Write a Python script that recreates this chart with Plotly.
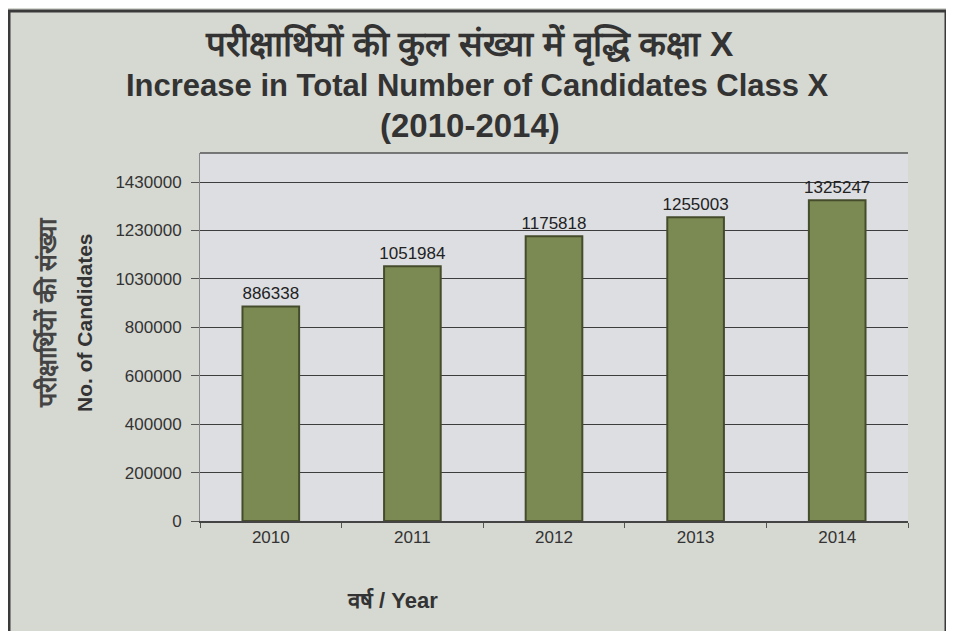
import plotly.graph_objects as go

years = ["2010", "2011", "2012", "2013", "2014"]
candidates = [886338, 1051984, 1175818, 1255003, 1325247]
ytick_vals = [0, 200000, 400000, 600000, 800000, 1000000, 1200000, 1400000]
ytick_text = ["0", "200000", "400000", "600000", "800000", "1030000", "1230000", "1430000"]

title_hi = "परीक्षार्थियों की कुल संख्या में वृद्धि कक्षा X"
title_en = "Increase in Total Number of Candidates Class X"
title_yr = "(2010-2014)"
ytitle_hi = "परीक्षार्थियों की संख्या"
ytitle_en = "No. of Candidates"
xtitle = "वर्ष / Year"

OFF = 8  # page body margin offset
W, H = 954, 631
L, R, T, B = 200 - OFF, 46 + OFF, 153 - OFF, 110 + OFF
pw, ph = W - L - R, H - T - B

def px(x):
    return (x - OFF - L) / pw

def py(y):
    return (H - B - (y - OFF)) / ph

fig = go.Figure()
fig.add_trace(go.Bar(
    x=years, y=candidates,
    width=0.4,
    marker=dict(color="#7b8a52", line=dict(color="#454c2c", width=2)),
    text=[str(v) for v in candidates],
    textposition="outside",
    constraintext="none",
    textfont=dict(family="Liberation Sans, Arial, sans-serif", size=17, color="#222222"),
    cliponaxis=False,
))

font_title = "Liberation Sans Narrow, Arial Narrow, Liberation Sans, Arial, sans-serif"

annotations = [
    dict(text=f"<b>{title_hi}</b>", x=px(469), y=py(45), font=dict(size=35, color="#333333", family=font_title)),
    dict(text=f"<b>{title_en}</b>", x=px(477), y=py(85), font=dict(size=31, color="#333333", family=font_title)),
    dict(text=f"<b>{title_yr}</b>", x=px(470), y=py(125), font=dict(size=33, color="#333333", family=font_title)),
    dict(text=f"<b>{ytitle_hi}</b>", x=px(47), y=py(313), textangle=-90, font=dict(size=25, color="#444444", family=font_title)),
    dict(text=f"<b>{ytitle_en}</b>", x=px(84), y=py(323), textangle=-90, font=dict(size=21, color="#333333", family="Liberation Sans, Arial, sans-serif")),
    dict(text=f"<b>{xtitle}</b>", x=px(392), y=py(600), font=dict(size=22, color="#333333", family=font_title)),
]
for a in annotations:
    a.update(xref="paper", yref="paper", showarrow=False, xanchor="center", yanchor="middle")

fig.update_layout(
    width=W, height=H,
    margin=dict(l=L, r=R, t=T, b=B, autoexpand=False),
    paper_bgcolor="#d6d8d2",
    plot_bgcolor="#dcdee2",
    showlegend=False,
    bargap=0.6,
    annotations=annotations,
    shapes=[
        dict(type="rect", xref="paper", yref="paper",
             x0=px(9), x1=px(946), y0=py(660), y1=py(11),
             line=dict(color="#3a3a3a", width=3), fillcolor="rgba(0,0,0,0)", layer="below"),
        dict(type="line", xref="paper", yref="paper",
             x0=0, x1=1, y0=1, y1=1, line=dict(color="#555555", width=1.5)),
    ],
    xaxis=dict(
        type="category", automargin=False,
        showline=True, linecolor="#444444", linewidth=1.5,
        ticks="outside", ticklen=5, tickcolor="#555555",
        tickson="boundaries",
        tickfont=dict(family="Liberation Sans, Arial, sans-serif", size=17, color="#333333"),
        showgrid=False,
    ),
    yaxis=dict(
        range=[0, 1520000], automargin=False,
        tickvals=ytick_vals, ticktext=ytick_text,
        showline=True, linecolor="#888888", linewidth=1,
        ticks="outside", ticklen=8, tickcolor="#555555",
        ticklabelstandoff=6,
        gridcolor="#3d3d3d", gridwidth=1,
        tickfont=dict(family="Liberation Sans, Arial, sans-serif", size=17, color="#333333"),
        zeroline=False,
    ),
)

fig.write_html("out.html")
